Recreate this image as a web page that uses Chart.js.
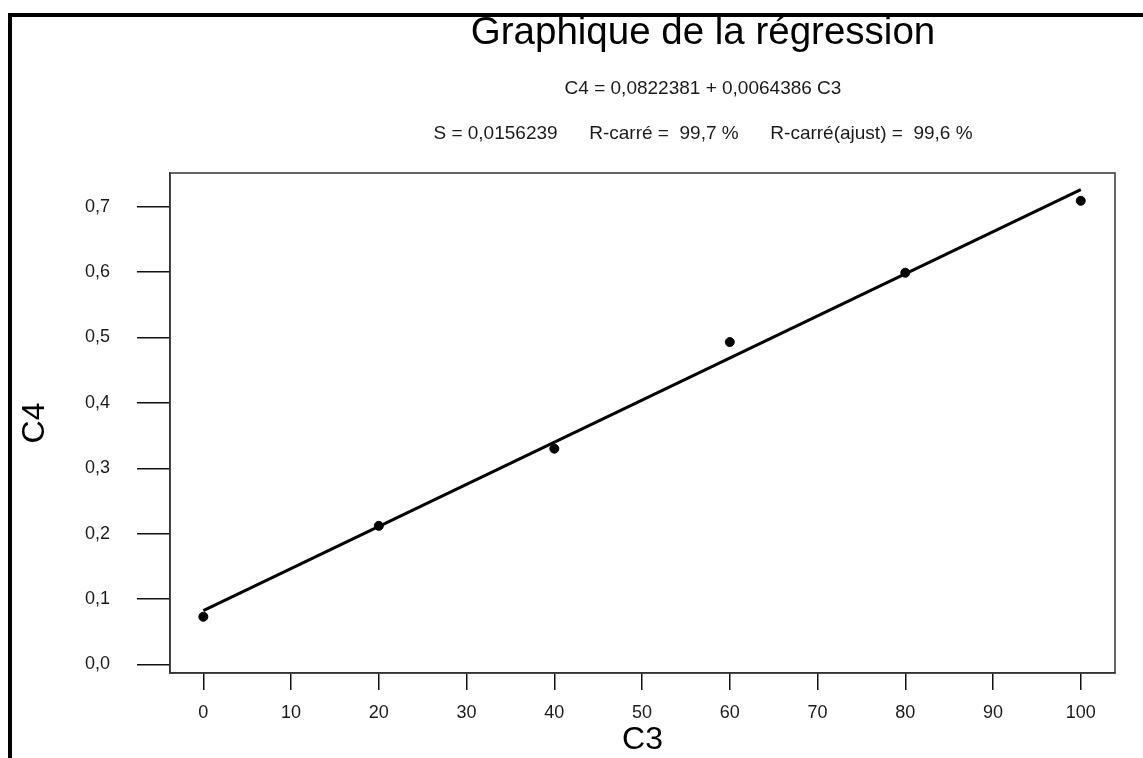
<!DOCTYPE html>
<html lang="fr">
<head>
    <meta charset="UTF-8">
    <title>Graphique de la régression</title>
    <script src="https://cdn.jsdelivr.net/npm/chart.js"></script>
    <style>
        body {
            margin: 0;
            background: #fff;
            font-family: Arial, "Liberation Sans", sans-serif;
        }
        #wrap {
            position: relative;
            width: 1143px;
            height: 758px;
            overflow: hidden;
        }
        /* cadre noir (haut et gauche seulement) */
        #frame {
            position: absolute;
            left: 8px;
            top: 13px;
            width: 1200px;
            height: 800px;
            border-top: 4px solid #000;
            border-left: 4px solid #000;
            pointer-events: none;
        }
    </style>
</head>
<body>
<div id="wrap">
    <canvas id="regChart" width="1143" height="758"></canvas>
    <div id="frame"></div>
</div>

<script>
    // Données mesurées
    const xValues = [0, 20, 40, 60, 80, 100];
    const yValues = [0.073, 0.212, 0.330, 0.493, 0.599, 0.709];

    // Graduations des axes
    const xTicks = [0, 10, 20, 30, 40, 50, 60, 70, 80, 90, 100];
    const yTicks = [0, 0.1, 0.2, 0.3, 0.4, 0.5, 0.6, 0.7];

    // Résultats de la régression
    const intercept = 0.0822381;
    const slope = 0.0064386;
    const sValue = 0.0156239;
    const rSq = 99.7;
    const rSqAdj = 99.6;

    const FONT = 'Arial, "Liberation Sans", sans-serif';
    const fr = (v, d) => (d === undefined ? String(v) : v.toFixed(d)).replace('.', ',');

    const titleText = 'Graphique de la régression';
    const eqText = 'C4 = ' + fr(intercept) + ' + ' + fr(slope) + ' C3';
    const statsText = 'S = ' + fr(sValue) + '      R-carré =  ' + fr(rSq, 1) + ' %      R-carré(ajust) =  ' + fr(rSqAdj, 1) + ' %';

    // Titres et cadre de la zone de tracé
    const headerPlugin = {
        id: 'header',
        afterDraw(chart) {
            const ctx = chart.ctx;
            const a = chart.chartArea;
            ctx.save();
            ctx.strokeStyle = '#333';
            ctx.lineWidth = 1.5;
            ctx.strokeRect(a.left, a.top, a.right - a.left, a.bottom - a.top);

            ctx.fillStyle = '#000';
            ctx.textAlign = 'center';
            ctx.textBaseline = 'alphabetic';
            ctx.font = '38.5px ' + FONT;
            ctx.fillText(titleText, 703, 44);
            ctx.fillStyle = '#1a1a1a';
            ctx.font = '19px ' + FONT;
            ctx.fillText(eqText, 703, 94);
            ctx.fillText(statsText, 703, 139);
            ctx.restore();
        }
    };

    const fitStart = { x: xValues[0], y: intercept + slope * xValues[0] };
    const fitEnd = { x: xValues[xValues.length - 1], y: intercept + slope * xValues[xValues.length - 1] };

    const ctx = document.getElementById('regChart').getContext('2d');
    new Chart(ctx, {
        type: 'scatter',
        data: {
            datasets: [
                {
                    label: 'Observations',
                    data: xValues.map((x, i) => ({ x: x, y: yValues[i] })),
                    backgroundColor: '#000',
                    borderColor: '#000',
                    pointRadius: 4.5,
                    showLine: false
                },
                {
                    label: 'Régression',
                    type: 'line',
                    data: [fitStart, fitEnd],
                    borderColor: '#000',
                    borderWidth: 3,
                    pointRadius: 0,
                    fill: false
                }
            ]
        },
        options: {
            responsive: false,
            animation: false,
            devicePixelRatio: 1,
            layout: { padding: { top: 173, right: 28, bottom: 0, left: 0 } },
            plugins: {
                legend: { display: false },
                tooltip: { enabled: false }
            },
            scales: {
                x: {
                    type: 'linear',
                    min: -3.8,
                    max: 103.9,
                    afterBuildTicks: s => { s.ticks = xTicks.map(v => ({ value: v })); },
                    afterFit: s => { s.height = 85; },
                    grid: { drawOnChartArea: false, drawTicks: true, tickLength: 17, color: '#111', lineWidth: 1.5 },
                    border: { display: true, color: '#333', width: 1.5 },
                    ticks: { color: '#1a1a1a', font: { family: FONT, size: 18 }, padding: 12, maxRotation: 0, autoSkip: false },
                    title: { display: true, text: 'C3', color: '#000', font: { family: FONT, size: 32, lineHeight: 1 }, padding: { top: 0, bottom: 2 } }
                },
                y: {
                    type: 'linear',
                    min: -0.013,
                    max: 0.7515,
                    afterBuildTicks: s => { s.ticks = yTicks.map(v => ({ value: v })); },
                    afterFit: s => { s.width = 170; },
                    grid: { drawOnChartArea: false, drawTicks: true, tickLength: 33, color: '#111', lineWidth: 1.5 },
                    border: { display: true, color: '#333', width: 1.5 },
                    ticks: { color: '#1a1a1a', font: { family: FONT, size: 18 }, padding: 27, callback: v => fr(v, 1) },
                    title: { display: true, text: 'C4', color: '#000', font: { family: FONT, size: 32, lineHeight: 1 }, padding: { top: 19, bottom: 0 } }
                }
            }
        },
        plugins: [headerPlugin]
    });
</script>
</body>
</html>
